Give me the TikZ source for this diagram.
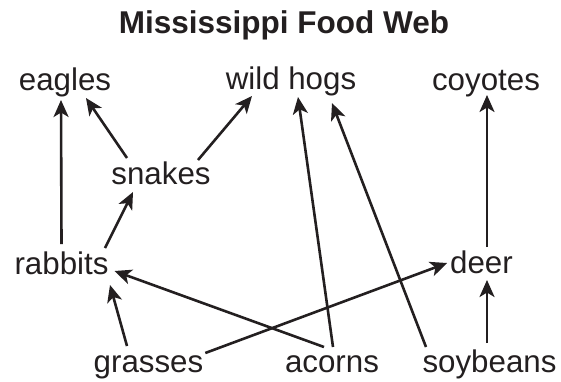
\documentclass[tikz,border=0pt]{standalone}
\usepackage{fontspec}
\setmainfont{Liberation Sans}
\usetikzlibrary{arrows.meta}
\definecolor{ink}{RGB}{35,31,32}
\tikzset{
  animal/.style={anchor=base,inner sep=0pt,outer sep=0pt,text height=23pt,text depth=6pt,
    text=ink,font=\fontsize{31.3}{36}\selectfont},
  eats/.style={draw=ink,line width=2.6pt,-{Stealth[length=17pt,width=15pt,inset=4.5pt]}}
}
\begin{document}
\begin{tikzpicture}[x=1pt,y=-1pt]
    \useasboundingbox (0,0) rectangle (561,381);
    \node[anchor=base,text=ink,font=\fontsize{31.5}{36}\selectfont\bfseries] (title) at (284,33) {Mississippi Food Web};
    \node[animal] (eagles) at (65,90) {eagles};
    \node[animal] (hogs) at (291,89) {wild hogs};
    \node[animal] (coyotes) at (486,90) {coyotes};
    \node[animal] (snakes) at (161,184) {snakes};
    \node[animal] (rabbits) at (61.5,274) {rabbits};
    \node[animal] (deer) at (481.5,273) {deer};
    \node[animal] (grasses) at (148.5,372) {grasses};
    \node[animal] (acorns) at (332,372) {acorns};
    \node[animal] (soybeans) at (489.5,372) {soybeans};
    \draw[eats] ([yshift=7pt]rabbits.north) -- ([xshift=-4pt,yshift=-4pt]eagles.south);
    \draw[eats] ([xshift=-34pt,yshift=3pt]snakes.north) -- ([xshift=21pt,yshift=-2pt]eagles.south);
    \draw[eats] ([xshift=37pt,yshift=1pt]snakes.north) -- ([xshift=-39pt,yshift=-1pt]hogs.south);
    \draw[eats] ([xshift=43.5pt,yshift=3pt]rabbits.north) -- ([xshift=-28pt,yshift=-2pt]snakes.south);
    \draw[eats] ([xshift=-21.5pt,yshift=3pt]grasses.north) -- ([xshift=48.5pt,yshift=-5pt]rabbits.south);
    \draw[eats] ([xshift=-8pt,yshift=2pt]acorns.north) -- ([xshift=6pt,yshift=-5.5pt]rabbits.east);
    \draw[eats] ([xshift=2pt,yshift=10.5pt]grasses.east) -- ([xshift=-3pt,yshift=1.5pt]deer.west);
    \draw[eats] ([xshift=1pt,yshift=2pt]acorns.north) -- ([xshift=7pt,yshift=-2pt]hogs.south);
    \draw[eats] ([xshift=-63.5pt,yshift=2pt]soybeans.north) -- ([xshift=41pt,yshift=-8pt]hogs.south);
    \draw[eats] ([xshift=-2.5pt,yshift=6pt]soybeans.north) -- ([xshift=5.5pt,yshift=-1pt]deer.south);
    \draw[eats] ([xshift=5.5pt,yshift=3pt]deer.north) -- ([xshift=1pt,yshift=1pt]coyotes.south);
\end{tikzpicture}
\end{document}
